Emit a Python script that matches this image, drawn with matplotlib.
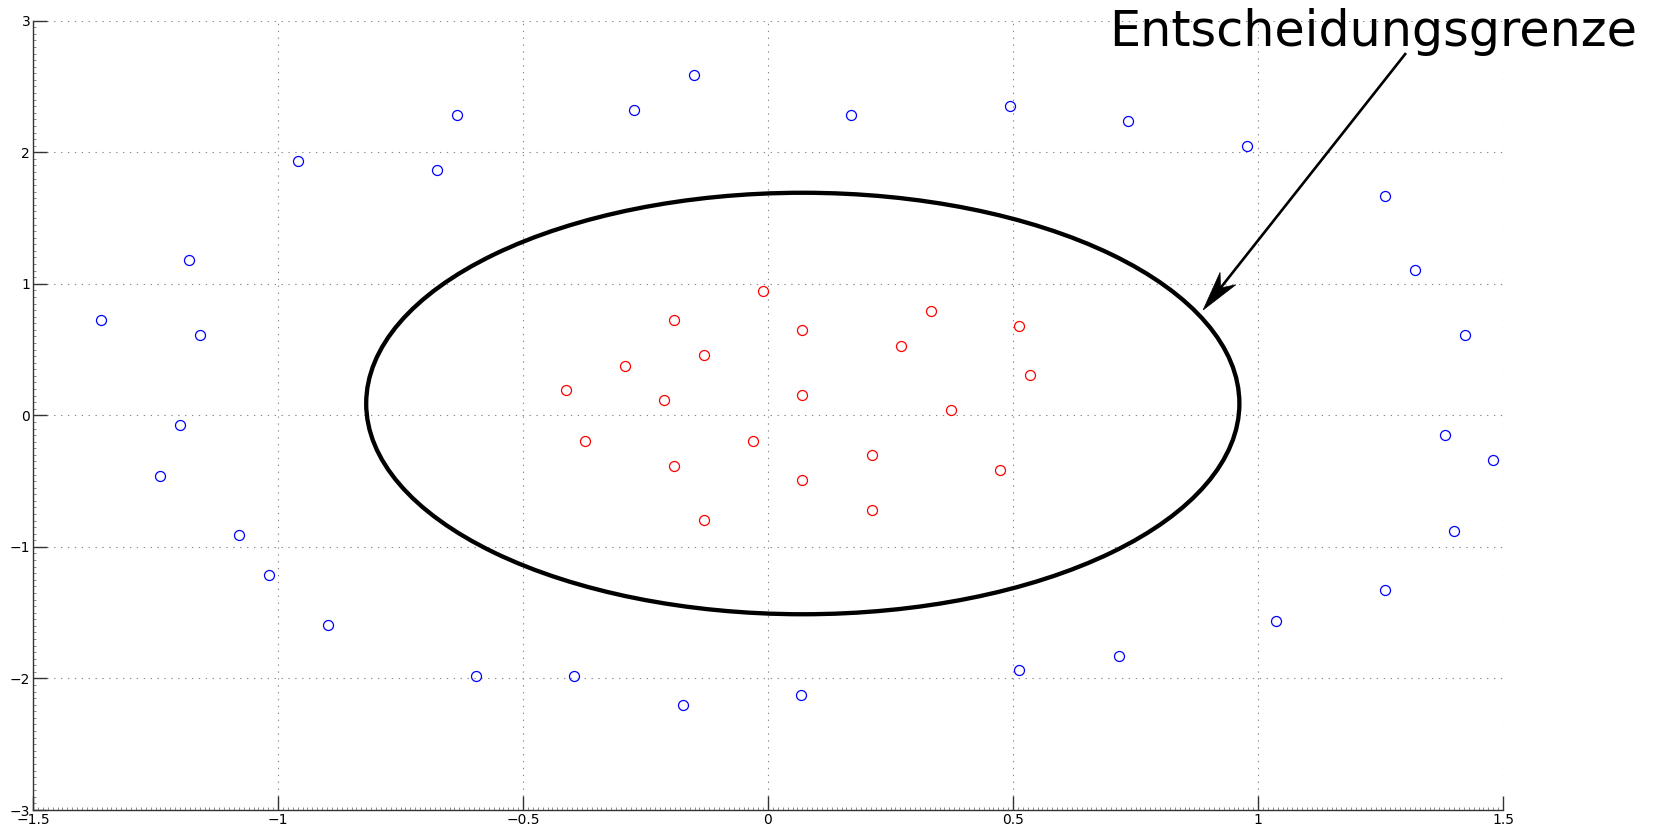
import numpy as np
import matplotlib
matplotlib.use("Agg")
import matplotlib.pyplot as plt
from matplotlib.patches import Ellipse, Polygon
from matplotlib.ticker import MultipleLocator

# ---- data ----
blue_x = [-1.362, -1.181, -1.159, -1.200, -1.241, -1.080, -1.019, -0.898,
          -0.959, -0.676, -0.635, -0.273, -0.152, 0.170, 0.494, 0.735,
          0.977, 1.260, 1.321, 1.422, 1.381, 1.480, 1.400, 1.260,
          1.037, 0.716, 0.513, 0.068, -0.173, -0.395, -0.596]
blue_y = [0.722, 1.180, 0.609, -0.075, -0.460, -0.910, -1.215, -1.593,
          1.936, 1.863, 2.281, 2.322, 2.587, 2.281, 2.354, 2.241,
          2.048, 1.670, 1.108, 0.609, -0.146, -0.339, -0.878, -1.328,
          -1.561, -1.826, -1.939, -2.124, -2.204, -1.979, -1.979]

red_x = [-0.010, -0.191, 0.070, 0.333, 0.513, 0.272, -0.131, -0.292,
         0.534, -0.413, -0.212, 0.070, 0.373, -0.373, -0.030, -0.191,
         0.212, 0.474, 0.070, 0.212, -0.131]
red_y = [0.949, 0.723, 0.647, 0.797, 0.683, 0.530, 0.457, 0.378,
         0.305, 0.190, 0.114, 0.152, 0.038, -0.193, -0.193, -0.383,
         -0.305, -0.419, -0.495, -0.723, -0.799]

# decision boundary ellipse: center and semi-axes
ell_center = (0.071, 0.090)
ell_semi = (0.891, 1.602)

x_ticks = [-1.5, -1, -0.5, 0, 0.5, 1, 1.5]
x_labels = ["\u22121.5", "\u22121", "\u22120.5", "0", "0.5", "1", "1.5"]
y_ticks = [-3, -2, -1, 0, 1, 2, 3]
y_labels = ["\u22123", "\u22122", "\u22121", "0", "1", "2", "3"]

label_text = "Entscheidungsgrenze"
arrow_start = (1.302, 2.754)
arrow_tip = (0.888, 0.801)
text_pos = (0.697, 2.804)

# ---- figure ----
fig = plt.figure(figsize=(16.58, 8.34), dpi=100)
ax = fig.add_axes([33 / 1658, 24 / 834, 1470 / 1658, 789.3 / 834])

ax.set_xlim(-1.5, 1.5)
ax.set_ylim(-3, 3)

ax.plot(blue_x, blue_y, linestyle="none", marker="o", markersize=7.2,
        markerfacecolor="none", markeredgecolor=(0, 0, 1), markeredgewidth=0.9)
ax.plot(red_x, red_y, linestyle="none", marker="o", markersize=7.2,
        markerfacecolor="none", markeredgecolor=(1, 0, 0), markeredgewidth=0.9)

ell = Ellipse(ell_center, 2 * ell_semi[0], 2 * ell_semi[1], fill=False,
              edgecolor="black", linewidth=3.1, zorder=3)
ax.add_patch(ell)

# grid
ax.set_xticks(x_ticks)
ax.set_xticklabels(x_labels)
ax.set_yticks(y_ticks)
ax.set_yticklabels(y_labels)
ax.grid(True, which="major", color="#888888", linewidth=0.8,
        linestyle=(0, (1.2, 5.0)))
ax.set_axisbelow(True)

ax.xaxis.set_minor_locator(MultipleLocator(0.01))
ax.yaxis.set_minor_locator(MultipleLocator(0.05))

for s in ["top", "right"]:
    ax.spines[s].set_visible(False)
for s in ["left", "bottom"]:
    ax.spines[s].set_color("#333333")
    ax.spines[s].set_linewidth(1.0)

ax.tick_params(axis="both", which="major", direction="in", length=10,
               width=1.0, color="#333333", labelsize=10, pad=2,
               top=False, right=False)
ax.tick_params(axis="both", which="minor", direction="in", length=2.2,
               width=0.6, color="#777777", top=False, right=False)

# annotation arrow with concave (stealth) head, built in display space
p0 = ax.transData.transform(arrow_start)
p1 = ax.transData.transform(arrow_tip)
d = p1 - p0
L = np.hypot(*d)
u = d / L
n = np.array([-u[1], u[0]])
head_len, head_half, notch = 40.0, 10.0, 28.0
shaft_end = p1 - u * notch
ax.plot([p0[0], shaft_end[0]], [p0[1], shaft_end[1]], color="black",
        linewidth=1.9, transform=None, clip_on=False, zorder=5,
        solid_capstyle="butt")
head = np.array([p1,
                 p1 - u * head_len + n * head_half,
                 p1 - u * notch,
                 p1 - u * head_len - n * head_half])
ax.add_patch(Polygon(head, closed=True, facecolor="black", edgecolor="black",
                     linewidth=0.5, transform=None, clip_on=False, zorder=5))

ax.text(text_pos[0], text_pos[1], label_text, fontsize=35.5, ha="left",
        va="baseline", color="black", clip_on=False, zorder=6)

fig.savefig("out.png", dpi=100)
